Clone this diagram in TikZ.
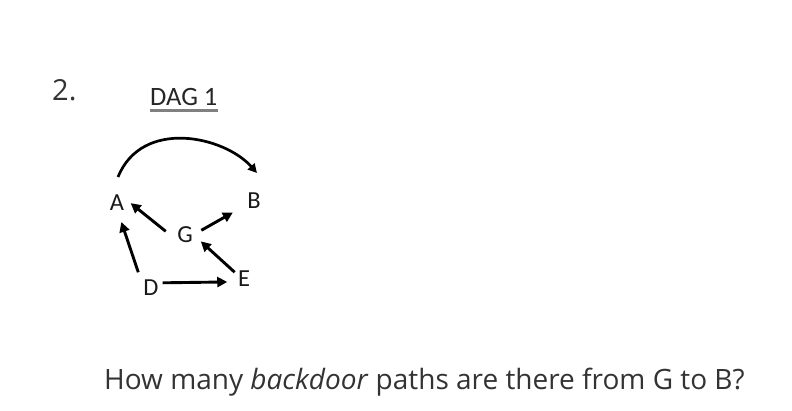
\documentclass[tikz,border=0pt]{standalone}
\usepackage{fontspec}
\setmainfont{Open Sans}
\newfontfamily\calibri{Carlito}
\usetikzlibrary{arrows.meta}

\begin{document}
\begin{tikzpicture}[x=1pt,y=1pt,
    vertex/.style={circle,inner sep=0pt,outer sep=0pt,minimum size=34pt,
        font=\calibri\fontsize{24.5}{24.5}\selectfont,text=black!90},
    edge/.style={line width=2.9pt,-{Triangle[length=10pt,width=10pt]}}]
    \useasboundingbox (0,0) rectangle (792,410);

    % number of the question
    \node[anchor=base west,inner sep=0pt,text=black!80,font=\fontsize{29}{29}\selectfont] (num) at (52,309) {2.};

    % title, underlined
    \node[anchor=base west,inner sep=0pt,text=black!85,font=\calibri\fontsize{26.5}{26.5}\selectfont] (title) at (150,304) {DAG 1};
    \draw[black!50,line width=2.8pt] ([yshift=-4pt]title.south west) -- ([yshift=-4pt]title.south east);

    % vertices
    \node[vertex] (A) at (117,207) {A};
    \node[vertex] (B) at (254,209) {B};
    \node[vertex] (G) at (185,175) {G};
    \node[vertex] (D) at (151,122) {D};
    \node[vertex] (E) at (244,131) {E};

    % edges
    \draw[edge,shorten <=3pt,shorten >=-4pt] (G.174) -- (A.351);
    \draw[edge,shorten >=7pt] (G.16) -- (B.208);
    \draw[edge,shorten <=3.5pt,shorten >=2.5pt] (D.133) -- (A.282);
    \draw[edge,shorten <=-5.5pt] (E.142) -- (G.338);
    \draw[edge,shorten <=-4.5pt] (D.18) -- (E.190);

    % A -> B over the top
    \draw[line width=2.7pt,-{Triangle[length=9pt,width=9pt]}] ([xshift=1pt,yshift=26pt]A.center)
        .. controls +(24,59) and +(-33,37) .. ([xshift=3pt,yshift=28pt]B.center);

    % question
    \node[anchor=base west,inner sep=0pt,text=black!80,font=\fontsize{28}{28}\selectfont] (question) at (104,21)
        {How many \emph{backdoor} paths are there from G to B?};
\end{tikzpicture}
\end{document}
